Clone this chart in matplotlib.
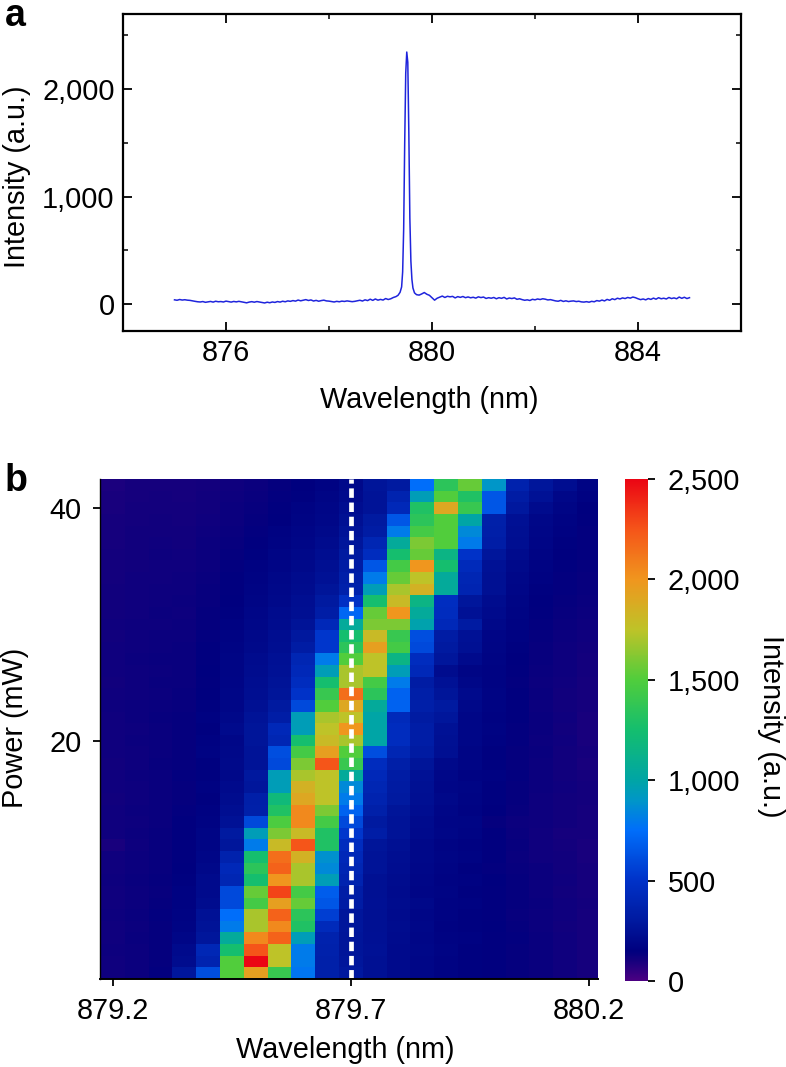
import matplotlib
matplotlib.use('Agg')
import matplotlib.pyplot as plt
import numpy as np
from matplotlib.colors import LinearSegmentedColormap
from matplotlib.ticker import FuncFormatter

plt.rcParams['font.family'] = ['Liberation Sans', 'DejaVu Sans']

# panel a, spectrum (a.u.)
base_left = [
    40, 36, 43, 38, 41, 37, 35, 30, 26, 22, 20, 24, 17, 21, 25, 19, 27, 22, 24, 20,
    28, 23, 19, 25, 21, 26, 22, 17, 12, 19, 23, 18, 24, 20, 15, 11, 18, 13, 20, 16,
    24, 19, 27, 22, 30, 26, 33, 28, 38, 31, 36, 42, 34, 39, 29, 35, 27, 33, 37, 30,
    28, 24, 20, 26, 22, 28, 25, 30, 27, 23, 26, 31, 36, 29, 40, 33, 46, 35, 48, 37,
    44, 38, 52, 43, 50, 62,
]
peak_wave = [879.30, 879.34, 879.38, 879.41, 879.43, 879.45, 879.47, 879.49, 879.51,
             879.53, 879.55, 879.57, 879.59, 879.61, 879.63, 879.66]
peak_vals = [70, 82, 110, 160, 300, 700, 1500, 2150, 2346, 2250, 1600, 800, 400, 230, 150, 105]
base_right = [
    88, 84, 95, 108, 92, 82, 60, 37, 55, 65, 75, 62, 73, 68, 72, 58, 70, 63, 71, 60,
    67, 59, 64, 56, 68, 61, 66, 53, 60, 55, 62, 50, 60, 54, 63, 48, 57, 52, 58, 45,
    50, 42, 36, 40, 34, 45, 40, 48, 43, 50, 46, 39, 42, 36, 30, 27, 35, 25, 31, 24,
    28, 30, 24, 27, 21, 19, 23, 18, 26, 22, 33, 28, 38, 30, 44, 36, 50, 42, 55, 48,
    58, 52, 62, 56, 66, 60, 50, 42, 48, 40, 52, 44, 56, 46, 60, 50, 55, 48, 62, 52,
    58, 50, 66, 54, 64, 52, 60,
]

# panel b, one row per mW, columns 879.2 ... 880.2 nm (a.u.)
wave_centres = [879.2 + 0.05 * i for i in range(21)]
power_centres = list(range(43))
intensity = [
    [115, 125, 145, 280, 620, 1500, 1950, 1400, 780, 350, 290, 240, 210, 190, 170, 160, 150, 140, 130, 115, 100],
    [115, 125, 140, 220, 380, 1500, 2500, 1750, 800, 350, 280, 240, 210, 190, 170, 160, 150, 140, 130, 115, 100],
    [120, 125, 140, 210, 410, 1250, 2250, 1750, 800, 360, 270, 250, 210, 195, 175, 160, 150, 140, 130, 115, 100],
    [115, 130, 140, 190, 280, 1050, 2050, 2200, 950, 370, 270, 245, 215, 190, 170, 165, 150, 145, 130, 115, 100],
    [115, 125, 140, 175, 260, 800, 1700, 2050, 1300, 430, 280, 240, 220, 195, 165, 160, 155, 140, 125, 110, 100],
    [120, 130, 145, 170, 250, 750, 1700, 2200, 1350, 550, 280, 240, 215, 190, 170, 160, 150, 135, 125, 115, 100],
    [115, 125, 140, 165, 220, 600, 1450, 1950, 1550, 650, 320, 245, 220, 200, 170, 165, 150, 140, 130, 115, 105],
    [115, 125, 135, 165, 210, 600, 1550, 2300, 1450, 680, 330, 240, 215, 185, 175, 160, 150, 140, 125, 110, 100],
    [120, 130, 140, 160, 210, 400, 1250, 2000, 1700, 950, 380, 240, 220, 190, 170, 165, 155, 140, 125, 115, 100],
    [115, 125, 135, 155, 200, 420, 1350, 2200, 1700, 850, 400, 260, 225, 195, 175, 160, 145, 135, 125, 110, 100],
    [115, 125, 135, 150, 190, 370, 1250, 2150, 1850, 880, 420, 260, 230, 200, 180, 170, 150, 130, 115, 110, 95],
    [95, 120, 135, 150, 180, 280, 800, 1800, 2250, 1300, 450, 270, 240, 200, 175, 165, 150, 135, 115, 105, 95],
    [115, 125, 135, 150, 180, 300, 950, 1600, 1800, 1300, 520, 330, 260, 210, 190, 175, 150, 130, 115, 100, 100],
    [115, 120, 130, 150, 170, 250, 600, 1480, 2050, 1450, 600, 300, 260, 215, 185, 180, 140, 125, 120, 110, 100],
    [115, 125, 130, 145, 165, 230, 350, 1300, 2050, 1600, 700, 350, 270, 225, 190, 170, 155, 135, 120, 110, 100],
    [110, 120, 130, 140, 160, 220, 340, 1200, 1900, 1750, 800, 380, 300, 235, 200, 175, 160, 140, 120, 110, 105],
    [115, 120, 130, 140, 165, 210, 280, 950, 1850, 1750, 850, 400, 310, 240, 190, 180, 160, 140, 125, 115, 105],
    [115, 125, 130, 145, 160, 200, 290, 950, 1700, 1750, 1050, 420, 320, 250, 195, 170, 165, 145, 125, 110, 100],
    [110, 120, 135, 140, 160, 205, 260, 600, 1600, 2250, 1400, 450, 340, 270, 205, 180, 160, 140, 125, 110, 95],
    [115, 120, 130, 140, 170, 200, 260, 620, 1450, 1950, 1500, 620, 400, 310, 235, 180, 160, 140, 130, 110, 100],
    [115, 125, 130, 140, 165, 195, 270, 400, 1250, 1800, 1700, 1000, 450, 330, 240, 190, 165, 145, 125, 115, 95],
    [115, 120, 130, 140, 160, 210, 270, 420, 950, 1750, 2000, 1000, 450, 330, 250, 190, 170, 145, 130, 110, 95],
    [115, 125, 135, 140, 165, 200, 260, 330, 950, 1700, 1750, 1000, 430, 310, 280, 190, 165, 150, 130, 115, 95],
    [120, 125, 130, 135, 160, 190, 240, 300, 600, 1500, 1900, 1050, 700, 340, 300, 200, 170, 150, 125, 110, 100],
    [115, 120, 125, 135, 155, 190, 230, 270, 500, 1400, 2150, 1350, 700, 340, 270, 210, 175, 150, 130, 110, 100],
    [110, 120, 130, 130, 150, 185, 225, 260, 450, 1250, 1700, 1450, 800, 320, 250, 195, 170, 145, 125, 115, 100],
    [115, 120, 125, 130, 155, 180, 220, 250, 420, 950, 1700, 1750, 950, 420, 220, 180, 170, 150, 130, 120, 105],
    [115, 125, 130, 130, 150, 180, 215, 245, 400, 800, 1500, 1750, 1150, 450, 280, 210, 175, 155, 135, 120, 105],
    [115, 120, 125, 130, 150, 175, 205, 230, 320, 520, 1350, 1950, 1450, 600, 300, 240, 180, 160, 135, 120, 110],
    [110, 120, 125, 125, 145, 170, 200, 225, 290, 520, 1250, 1800, 1400, 620, 320, 250, 185, 165, 140, 125, 115],
    [115, 120, 120, 125, 140, 165, 195, 220, 260, 420, 1050, 1600, 1600, 980, 420, 310, 200, 170, 145, 130, 120],
    [110, 115, 125, 120, 140, 160, 190, 215, 235, 330, 720, 1550, 2000, 1050, 450, 250, 210, 175, 150, 135, 125],
    [110, 115, 120, 125, 135, 155, 180, 205, 230, 300, 480, 1250, 1800, 1150, 460, 280, 220, 180, 155, 140, 130],
    [110, 115, 120, 120, 135, 150, 175, 200, 220, 270, 360, 950, 1700, 1850, 1050, 390, 240, 190, 160, 145, 135],
    [105, 115, 115, 120, 130, 150, 170, 195, 215, 250, 340, 800, 1550, 1750, 1050, 400, 240, 195, 165, 145, 135],
    [105, 110, 115, 115, 125, 145, 165, 185, 205, 235, 320, 650, 1450, 2000, 1250, 430, 250, 205, 170, 150, 140],
    [105, 110, 120, 115, 125, 140, 160, 180, 200, 225, 300, 450, 1250, 1550, 1150, 500, 280, 215, 175, 155, 145],
    [100, 110, 115, 110, 125, 135, 150, 170, 190, 215, 280, 400, 1050, 1600, 1500, 800, 330, 230, 185, 160, 145],
    [100, 110, 110, 110, 120, 130, 145, 165, 185, 205, 260, 320, 800, 1450, 1500, 850, 340, 235, 190, 165, 145],
    [100, 105, 110, 105, 115, 125, 140, 155, 175, 195, 240, 300, 650, 1350, 1500, 1000, 350, 245, 195, 170, 150],
    [95, 105, 105, 105, 110, 125, 135, 150, 170, 190, 225, 260, 420, 1300, 1900, 1400, 650, 290, 215, 180, 155],
    [95, 100, 105, 100, 110, 120, 130, 145, 160, 180, 210, 260, 380, 950, 1500, 1300, 650, 320, 250, 195, 165],
    [90, 100, 100, 100, 105, 115, 125, 140, 155, 170, 205, 270, 300, 750, 1350, 1550, 900, 370, 280, 225, 175],
]

# colour scale
cbar_stops = [0, 100, 150, 300, 500, 750, 900, 1000, 1250, 1500, 1750, 2000, 2250, 2500]
cbar_colors = ['#4b0082', '#14007d', '#00007f', '#001aa0', '#0032c8', '#006efa', '#0096c8',
               '#00a5a5', '#14be6e', '#50cd3c', '#bec328', '#f0961e', '#f55519', '#eb0514']

W, H = 786, 1067


def px_axes(left, top, right, bottom):
    return fig.add_axes([left / W, 1 - bottom / H, (right - left) / W, (bottom - top) / H])


fig = plt.figure(figsize=(7.86, 10.67), dpi=100)
fs = 20.8

# a
ax1 = px_axes(123, 14, 741, 331)
wave = np.concatenate([875 + 0.05 * np.arange(len(base_left)), peak_wave,
                       879.7 + 0.05 * np.arange(len(base_right))])
vals = np.concatenate([base_left, peak_vals, base_right])
ax1.plot(wave, vals, color='#1f24dc', lw=1.1)
ax1.set_xlim(874, 886)
ax1.set_ylim(-250, 2700)
ax1.set_xticks([876, 880, 884])
ax1.set_xticks([878, 882], minor=True)
ax1.set_yticks([0, 1000, 2000])
ax1.set_yticks([500, 1500, 2500], minor=True)
ax1.yaxis.set_major_formatter(FuncFormatter(lambda v, p: f'{int(v):,}'))
ax1.tick_params(which='major', direction='in', length=6.5, width=1.3, top=True, right=True,
                labelsize=fs, pad=6)
ax1.tick_params(which='minor', direction='in', length=3.5, width=1.1, top=True, right=True)
for s in ax1.spines.values():
    s.set_linewidth(1.6)
fig.text(429 / W, 1 - 400 / H, 'Wavelength (nm)', fontsize=fs, ha='center', va='center')
fig.text(17 / W, 1 - 177 / H, 'Intensity (a.u.)', fontsize=fs, rotation=90, ha='center', va='center')
fig.text(5 / W, 1 - 16 / H, 'a', fontsize=27, fontweight='bold', ha='left', va='center')

# b
cmap = LinearSegmentedColormap.from_list(
    'spec', [(s / 2500, c) for s, c in zip(cbar_stops, cbar_colors)], N=512)
ax2 = px_axes(100, 479, 598, 979)
x_edges = np.append(np.array(wave_centres) - 0.025, wave_centres[-1] + 0.025)
y_edges = np.append(np.array(power_centres) - 0.5, power_centres[-1] + 0.5)
mesh = ax2.pcolormesh(x_edges, y_edges, np.array(intensity), cmap=cmap, vmin=0, vmax=2500,
                      edgecolors='none', rasterized=True)
ax2.axvline(879.7, color='white', lw=3.4, dashes=(2.0, 1.0))
ax2.set_xlim(879.173, 880.219)
ax2.set_ylim(-0.5, 42.5)
ax2.set_xticks([879.2, 879.7, 880.2])
ax2.set_xticklabels(['879.2', '879.7', '880.2'])
ax2.set_yticks([20, 40])
ax2.tick_params(direction='out', length=5, width=1.3, labelsize=fs, pad=8)
ax2.spines['top'].set_visible(False)
ax2.spines['right'].set_visible(False)
ax2.spines['bottom'].set_linewidth(1.4)
ax2.spines['left'].set_linewidth(1.0)
fig.text(345 / W, 1 - 1050 / H, 'Wavelength (nm)', fontsize=fs, ha='center', va='center')
fig.text(15 / W, 1 - 728 / H, 'Power (mW)', fontsize=fs, rotation=90, ha='center', va='center')
fig.text(5 / W, 1 - 481 / H, 'b', fontsize=27, fontweight='bold', ha='left', va='center')

# colour bar
cax = px_axes(625, 479, 648, 981)
cb = fig.colorbar(mesh, cax=cax)
cb.set_ticks([0, 500, 1000, 1500, 2000, 2500])
cb.ax.yaxis.set_major_formatter(FuncFormatter(lambda v, p: f'{int(v):,}'))
cb.ax.tick_params(direction='out', length=5, width=1.3, labelsize=fs, pad=9)
cb.outline.set_visible(False)
fig.text(771 / W, 1 - 726 / H, 'Intensity (a.u.)', fontsize=fs, rotation=270, ha='center', va='center')

fig.savefig('out.png', dpi=100)
